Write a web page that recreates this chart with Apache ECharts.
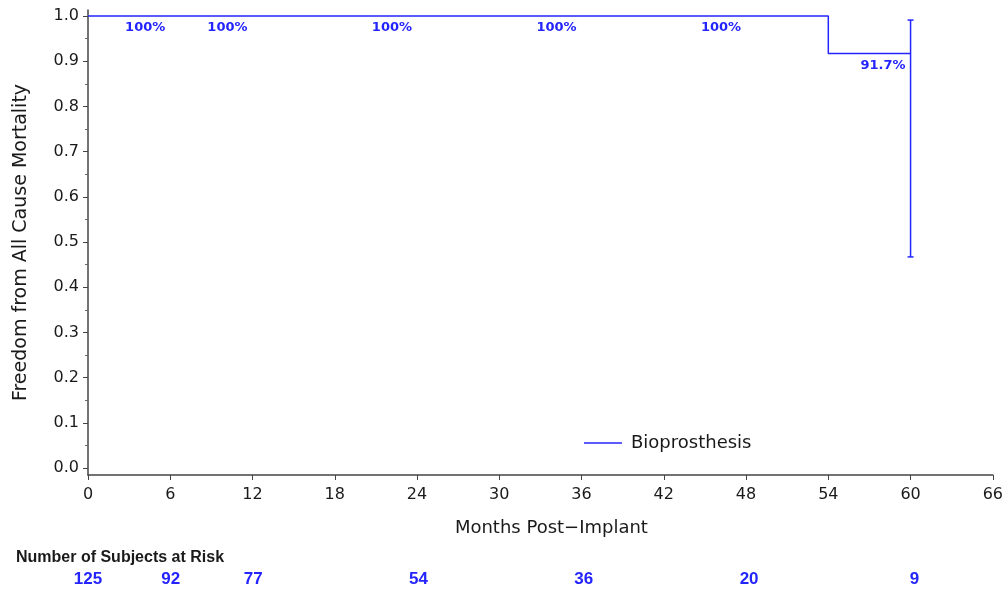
<!DOCTYPE html>
<html>
<head>
<meta charset="utf-8">
<script src="https://cdn.jsdelivr.net/npm/echarts@6/dist/echarts.min.js"></script>
<style>
  html, body { margin: 0; padding: 0; background: #fff; }
  #main { width: 1006px; height: 589px; }
</style>
</head>
<body>
<div id="main"></div>
<script>
// KM curve (step points)
const kmMonths = [0, 54, 60];
const kmSurvival = [1, 0.917, 0.917];

// percent labels shown under the curve
const pctMonths = [6, 12, 24, 36, 48, 60];
const pctSurvival = [1, 1, 1, 1, 1, 0.917];
const pctText = ['100%', '100%', '100%', '100%', '100%', '91.7%'];

// confidence interval at 60 months
const ciMonths = [60];
const ciLower = [0.467];
const ciUpper = [0.991];

// number at risk
const riskMonths = [0, 6, 12, 24, 36, 48, 60];
const riskCounts = [125, 92, 77, 54, 36, 20, 9];

// axis ticks
const yMajor = [0, 0.1, 0.2, 0.3, 0.4, 0.5, 0.6, 0.7, 0.8, 0.9, 1.0];
const yMinor = [0.05, 0.15, 0.25, 0.35, 0.45, 0.55, 0.65, 0.75, 0.85, 0.95];

const BLUE = '#2424ff';
const INK = '#1a1a1a';
const FONT = 'DejaVu Sans';

const yMin = -0.0155, yMax = 1.0133;

let chart = echarts.init(document.getElementById('main'));

let option = {
  animation: false,
  backgroundColor: '#fff',
  title: {
    text: 'Number of Subjects at Risk',
    left: 11,
    top: 545,
    textStyle: { fontFamily: 'Liberation Sans', fontSize: 16, fontWeight: 'bold', color: INK }
  },
  legend: {
    data: ['Bioprosthesis'],
    left: 579,
    top: 429,
    icon: 'rect',
    itemWidth: 38,
    itemHeight: 1.5,
    textStyle: { fontFamily: FONT, fontSize: 18, color: INK, padding: [0, 0, 0, 4] }
  },
  grid: [
    { left: 88, right: 9, top: 10, bottom: 114 },
    { left: 88, right: 9, top: 569, height: 22 }
  ],
  xAxis: [
    {
      type: 'value',
      gridIndex: 0,
      min: 0,
      max: 66,
      interval: 6,
      name: 'Months Post\u2212Implant',
      nameLocation: 'middle',
      nameGap: 44,
      nameTextStyle: { fontFamily: FONT, fontSize: 18, color: INK, padding: [0, 0, 0, 22] },
      axisLine: { onZero: false, lineStyle: { color: '#444', width: 1.5 } },
      axisTick: { length: 5, lineStyle: { color: '#444' } },
      axisLabel: { fontFamily: FONT, fontSize: 16, color: INK, margin: 12 },
      splitLine: { show: false }
    },
    { type: 'value', gridIndex: 1, min: 0, max: 66, show: false }
  ],
  yAxis: [
    {
      type: 'value',
      gridIndex: 0,
      min: yMin,
      max: yMax,
      name: 'Freedom from All Cause Mortality',
      nameLocation: 'middle',
      nameGap: 57,
      nameTextStyle: { fontFamily: FONT, fontSize: 19, color: INK },
      axisLine: { show: true, onZero: false, lineStyle: { color: '#444', width: 1.5 } },
      axisTick: { show: true, length: 5, customValues: yMajor, lineStyle: { color: '#444' } },
      axisLabel: {
        customValues: yMajor,
        fontFamily: FONT, fontSize: 16, color: INK, margin: 9,
        formatter: v => v.toFixed(1)
      },
      splitLine: { show: false }
    },
    {
      type: 'value',
      gridIndex: 0,
      min: yMin,
      max: yMax,
      position: 'left',
      axisLine: { show: false, onZero: false },
      axisTick: { show: true, length: 3, customValues: yMinor, lineStyle: { color: '#666' } },
      axisLabel: { show: false },
      splitLine: { show: false }
    },
    { type: 'value', gridIndex: 1, min: 0, max: 1, show: false }
  ],
  series: [
    {
      name: 'Bioprosthesis',
      type: 'line',
      xAxisIndex: 0,
      yAxisIndex: 0,
      step: 'end',
      showSymbol: false,
      lineStyle: { color: BLUE, width: 1.5 },
      itemStyle: { color: BLUE },
      data: kmMonths.map((m, i) => [m, kmSurvival[i]])
    },
    {
      name: 'ci',
      type: 'custom',
      xAxisIndex: 0,
      yAxisIndex: 0,
      data: ciMonths.map((m, i) => [m, ciLower[i], ciUpper[i]]),
      renderItem: function (params, api) {
        const lo = api.coord([api.value(0), api.value(1)]);
        const hi = api.coord([api.value(0), api.value(2)]);
        const cap = 3;
        const style = { stroke: BLUE, lineWidth: 1.5 };
        return {
          type: 'group',
          children: [
            { type: 'line', shape: { x1: hi[0], y1: hi[1], x2: lo[0], y2: lo[1] }, style: style },
            { type: 'line', shape: { x1: hi[0] - cap, y1: hi[1], x2: hi[0] + cap, y2: hi[1] }, style: style },
            { type: 'line', shape: { x1: lo[0] - cap, y1: lo[1], x2: lo[0] + cap, y2: lo[1] }, style: style }
          ]
        };
      }
    },
    {
      name: 'pct',
      type: 'scatter',
      xAxisIndex: 0,
      yAxisIndex: 0,
      symbolSize: 1,
      itemStyle: { color: 'rgba(0,0,0,0)' },
      data: pctMonths.map((m, i) => ({ value: [m, pctSurvival[i]], text: pctText[i] })),
      label: {
        show: true,
        opacity: 1,
        position: 'bottom',
        distance: 5,
        align: 'right',
        offset: [-5, 0],
        fontFamily: FONT,
        fontSize: 13,
        fontWeight: 'bold',
        color: BLUE,
        formatter: p => p.data.text
      }
    },
    {
      name: 'risk',
      type: 'scatter',
      xAxisIndex: 1,
      yAxisIndex: 2,
      symbolSize: 1,
      itemStyle: { color: 'rgba(0,0,0,0)' },
      data: riskMonths.map((m, i) => [m, 0.5, riskCounts[i]]),
      label: {
        show: true,
        opacity: 1,
        position: 'inside',
        fontFamily: 'Liberation Sans',
        fontSize: 17,
        fontWeight: 'bold',
        color: BLUE,
        formatter: p => String(p.data[2])
      }
    }
  ]
};

chart.setOption(option);
</script>
</body>
</html>
